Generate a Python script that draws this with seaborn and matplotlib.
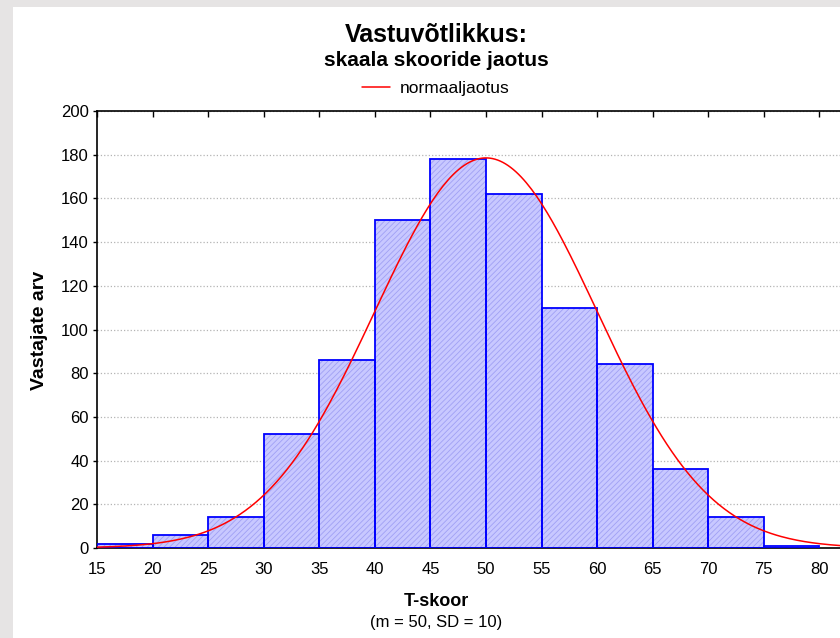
import numpy as np
import pandas as pd
import matplotlib
matplotlib.use("Agg")
import matplotlib.pyplot as plt
import seaborn as sns
from matplotlib.patches import Rectangle

# histogram data
bin_edges = [15, 20, 25, 30, 35, 40, 45, 50, 55, 60, 65, 70, 75, 80]
counts = [2, 6, 14, 52, 86, 150, 178, 162, 110, 84, 36, 14, 1]
t_mean = 50
t_sd = 10
x_ticks = [15, 20, 25, 30, 35, 40, 45, 50, 55, 60, 65, 70, 75, 80]
y_ticks = [0, 20, 40, 60, 80, 100, 120, 140, 160, 180, 200]

sns.set_style("white")
plt.rcParams["font.family"] = ["Liberation Sans", "DejaVu Sans"]
plt.rcParams["text.color"] = "black"
plt.rcParams["xtick.color"] = "black"
plt.rcParams["ytick.color"] = "black"
plt.rcParams["hatch.linewidth"] = 0.6

centers = [(a + b) / 2 for a, b in zip(bin_edges[:-1], bin_edges[1:])]
df = pd.DataFrame({"skoor": centers, "n": counts})

# normal curve fitted to the counts
n_total = sum(counts)
bw = bin_edges[1] - bin_edges[0]
xs = np.linspace(15, 85, 300)
ys = n_total * bw * np.exp(-0.5 * ((xs - t_mean) / t_sd) ** 2) / (t_sd * np.sqrt(2 * np.pi))
curve = pd.DataFrame({"x": xs, "y": ys})

fig = plt.figure(figsize=(8.4, 6.38), dpi=100)
fig.patch.set_facecolor("#e6e4e4")
fig.patches.append(Rectangle((13 / 840, 0), 1, 1 - 7 / 638, transform=fig.transFigure,
                             facecolor="white", edgecolor="none", zorder=-5))

ax = fig.add_axes([97 / 840, 1 - 548 / 638, 778 / 840, 437 / 638])
ax.set_facecolor("white")
ax.set_zorder(1)

# hatched fill
plt.rcParams["hatch.color"] = "#a0a0f4"
sns.histplot(data=df, x="skoor", weights="n", bins=bin_edges, ax=ax,
             color="#c8c8ff", alpha=1, linewidth=0, hatch="//////",
             edgecolor="#a0a0f4", zorder=2)
# outline
sns.histplot(data=df, x="skoor", weights="n", bins=bin_edges, ax=ax,
             fill=False, element="bars", color="#0000ff", linewidth=1.3, zorder=3)

sns.lineplot(data=curve, x="x", y="y", ax=ax, color="#ff0000", linewidth=1.1,
             zorder=4, label="normaaljaotus", legend=False)

ax.set_xlim(15, 85)
ax.set_ylim(0, 200)
ax.set_xticks(x_ticks)
ax.set_yticks(y_ticks)
ax.yaxis.grid(True, linestyle=":", color="#b4b4b4", linewidth=0.9)
ax.set_axisbelow(True)
for s in ax.spines.values():
    s.set_color("black")
    s.set_linewidth(1.2)
ax.tick_params(axis="y", direction="out", length=3, width=1, left=True,
               labelsize=12, pad=3)
ax.tick_params(axis="x", direction="in", length=4, width=1, bottom=False, top=True,
               labelsize=12, pad=10)
ax.set_xlabel("")
ax.set_ylabel("")

cx = 436 / 840
fig.text(cx, 1 - 35 / 638, "Vastuvõtlikkus:", ha="center", va="center",
         fontsize=18, fontweight="bold")
fig.text(cx, 1 - 61 / 638, "skaala skooride jaotus", ha="center", va="center",
         fontsize=15, fontweight="bold")
fig.legend(loc="center", bbox_to_anchor=(cx, 1 - 88 / 638), frameon=False,
           fontsize=12.5, handlelength=1.6, handletextpad=0.6)
fig.text(40 / 840, 1 - 330 / 638, "Vastajate arv", ha="center", va="center",
         rotation=90, fontsize=14, fontweight="bold")
fig.text(cx, 1 - 601 / 638, "T-skoor", ha="center", va="center",
         fontsize=13, fontweight="bold")
fig.text(cx, 1 - 622 / 638, "(m = 50, SD = 10)", ha="center", va="center",
         fontsize=12)

fig.savefig("out.png", dpi=100, facecolor=fig.get_facecolor())
